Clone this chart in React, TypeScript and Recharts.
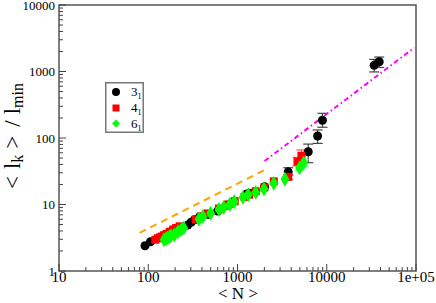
import React from "react";
import {
    ScatterChart,
    Scatter,
    XAxis,
    YAxis,
    ZAxis,
    ErrorBar,
    ReferenceArea,
    Legend,
} from "recharts";

const xMajor = [10, 100, 1000, 10000, 100000];
const xMajorLabels = ["10", "100", "1000", "10000", "1e+05"];
const yMajor = [1, 10, 100, 1000, 10000];
const yMajorLabels = ["1", "10", "100", "1000", "10000"];

// knot 3_1
const n31 = [92, 106, 160, 185, 215, 277, 302, 330, 375, 470, 600, 750, 850, 1250, 1350, 1590, 2010];
const l31 = [2.4, 2.75, 3.6, 4.0, 4.4, 4.9, 5.4, 5.9, 6.5, 7.1, 8.0, 9.7, 10.4, 14.3, 14.8, 15.6, 18.5];
const n31e = [3700, 6200, 7900, 8950, 34000, 38700];
const l31e = [31, 62, 107, 185, 1240, 1400];
const lo31e = [27.7, 42.5, 83, 145, 985, 1150];
const hi31e = [35.7, 81, 132, 235, 1520, 1650];

// knot 4_1
const n41 = [120, 128, 135, 142, 150, 160, 175, 190, 205, 225, 340, 390, 460, 620, 780, 930, 1200, 1350, 1600, 2000, 2550];
const l41 = [2.95, 3.1, 3.2, 3.3, 3.45, 3.6, 3.9, 4.2, 4.45, 4.7, 5.95, 6.6, 7.35, 8.7, 10.0, 11.2, 13.0, 14.0, 15.8, 18.0, 22.3];
const n41e = [3700, 4700, 5200];
const l41e = [26, 44, 54];
const lo41e = [24, 38, 46];
const hi41e = [28, 51, 66];

// knot 6_1
const n61 = [150, 158, 165, 172, 180, 196, 215, 233, 250, 370, 410, 500, 620, 700, 820, 920, 1150, 1320, 1600, 1980, 2550, 3400];
const l61 = [2.95, 3.05, 3.15, 3.25, 3.4, 3.5, 3.9, 4.15, 4.45, 6.0, 6.6, 7.4, 8.4, 9.0, 10.0, 11.0, 12.8, 14.0, 15.2, 17.1, 20.8, 24.0];
const n61e = [4950, 5500];
const l61e = [35.5, 42];
const lo61e = [32, 37];
const hi61e = [39, 47];

// fitted power laws (end points)
const orangeN = [80, 2010];
const orangeL = [3.75, 33];
const magentaN = [2010, 95700];
const magentaL = [45, 2280];

const knotBase = ["3", "4", "6"];
const knotSub = "1";

const FONT = "Liberation Serif, Times New Roman, serif";

const pts = (n: number[], l: number[]) => n.map((v, i) => ({ n: v, l: l[i] }));
const ptsErr = (n: number[], l: number[], lo: number[], hi: number[]) =>
    n.map((v, i) => ({ n: v, l: l[i], err: [l[i] - lo[i], hi[i] - l[i]] }));

const minors = (majors: number[]) => {
    const out: number[] = [];
    majors.forEach((m, i) => {
        out.push(m);
        if (i < majors.length - 1) for (let k = 2; k < 10; k++) out.push(m * k);
    });
    return out;
};
const xTicks = minors(xMajor);
const yTicks = minors(yMajor);

const XTick = (props: any) => {
    const { x, y, payload } = props;
    const i = xMajor.indexOf(payload.value);
    const major = i >= 0;
    return (
        <g>
            <line x1={x} x2={x} y1={y} y2={y - (major ? 7 : 4)} stroke="#444" strokeWidth={1} />
            {major && (
                <text x={x} y={y + 11} textAnchor="middle" fontSize={15} fontFamily={FONT} fill="#000">
                    {xMajorLabels[i]}
                </text>
            )}
        </g>
    );
};

const YTick = (props: any) => {
    const { x, y, payload } = props;
    const i = yMajor.indexOf(payload.value);
    const major = i >= 0;
    return (
        <g>
            <line x1={x} x2={x + (major ? 7 : 4)} y1={y} y2={y} stroke="#444" strokeWidth={1} />
            {major && (
                <text x={x - 4} y={y} dy="0.35em" textAnchor="end" fontSize={13} fontFamily={FONT} fill="#000">
                    {yMajorLabels[i]}
                </text>
            )}
        </g>
    );
};

const YTitle = () => (
    <text
        transform="translate(20,136) rotate(-90)"
        textAnchor="middle"
        fontSize={23}
        fontFamily={FONT}
        fill="#000"
    >
        {"<"}
        <tspan dx={7}>l</tspan>
        <tspan fontSize={16} dy={3}>k</tspan>
        <tspan dy={-3} dx={6}>{">"}</tspan>
        <tspan dx={9}>/</tspan>
        <tspan dx={6}>l</tspan>
        <tspan fontSize={16} dy={3}>min</tspan>
    </text>
);

const XTitle = () => (
    <text x={238} y={299} textAnchor="middle" fontSize={17} fontFamily={FONT} fill="#000">
        {"< N >"}
    </text>
);

const LegendBox = () => (
    <svg width={40} height={52} style={{ display: "block" }}>
        <rect x={0.75} y={0.75} width={37.5} height={49.5} fill="#fff" stroke="#777" strokeWidth={1.5} />
        <circle cx={11} cy={10} r={4} fill="#000" />
        <rect x={7.5} y={22.5} width={7} height={7} fill="#ff0000" />
        <path d="M11 37.5 L15 41.5 L11 45.5 L7 41.5 Z" fill="#00ff00" />
        {knotBase.map((b, i) => (
            <text key={b} x={26} y={14 + i * 16} fontSize={13} fontFamily={FONT} fill="#000">
                {b}
                <tspan fontSize={8} dy={3}>{knotSub}</tspan>
            </text>
        ))}
    </svg>
);

export default function App() {
    return (
        <div style={{ position: "absolute", left: 0, top: 0, background: "#fff" }}>
            <ScatterChart width={436} height={303} margin={{ top: 5, right: 20, bottom: 0, left: 0 }}>
                <XAxis
                    type="number"
                    dataKey="n"
                    scale="log"
                    domain={[10, 100000]}
                    ticks={xTicks}
                    interval={0}
                    tick={<XTick />}
                    tickSize={0}
                    tickMargin={0}
                    axisLine={false}
                    height={32}
                    allowDataOverflow
                />
                <YAxis
                    type="number"
                    dataKey="l"
                    scale="log"
                    domain={[1, 10000]}
                    ticks={yTicks}
                    interval={0}
                    tick={<YTick />}
                    tickSize={0}
                    tickMargin={0}
                    axisLine={false}
                    width={59}
                    allowDataOverflow
                />
                <ZAxis range={[55, 55]} />
                <ReferenceArea x1={10} x2={100000} y1={1} y2={10000} fill="none" stroke="#555" strokeWidth={1.5} />
                <Scatter
                    data={pts(orangeN, orangeL)}
                    line={{ stroke: "#ffa500", strokeWidth: 2, strokeDasharray: "7 5" }}
                    shape={() => <g />}
                    isAnimationActive={false}
                />
                <Scatter
                    data={pts(magentaN, magentaL)}
                    line={{ stroke: "#ff00ff", strokeWidth: 2, strokeDasharray: "5 3 1.5 3" }}
                    shape={() => <g />}
                    isAnimationActive={false}
                />
                <Scatter data={pts(n31, l31)} fill="#000" shape="circle" isAnimationActive={false} />
                <Scatter data={ptsErr(n31e, l31e, lo31e, hi31e)} fill="#000" shape="circle" isAnimationActive={false}>
                    <ErrorBar dataKey="err" direction="y" width={5} stroke="#444" strokeWidth={1.2} />
                </Scatter>
                <Scatter data={pts(n41, l41)} fill="#ff0000" shape="square" isAnimationActive={false} />
                <Scatter data={ptsErr(n41e, l41e, lo41e, hi41e)} fill="#ff0000" shape="square" isAnimationActive={false}>
                    <ErrorBar dataKey="err" direction="y" width={5} stroke="#ff5050" strokeWidth={1.2} />
                </Scatter>
                <Scatter data={pts(n61, l61)} fill="#00ff00" shape="diamond" isAnimationActive={false} />
                <Scatter data={ptsErr(n61e, l61e, lo61e, hi61e)} fill="#00ff00" shape="diamond" isAnimationActive={false}>
                    <ErrorBar dataKey="err" direction="y" width={5} stroke="#70ff70" strokeWidth={1.2} />
                </Scatter>
                <Legend
                    layout="vertical"
                    align="center"
                    verticalAlign="middle"
                    content={<LegendBox />}
                    wrapperStyle={{ position: "absolute", left: 105, top: 82, width: 40, height: 52 }}
                />
                <YTitle />
                <XTitle />
            </ScatterChart>
        </div>
    );
}
